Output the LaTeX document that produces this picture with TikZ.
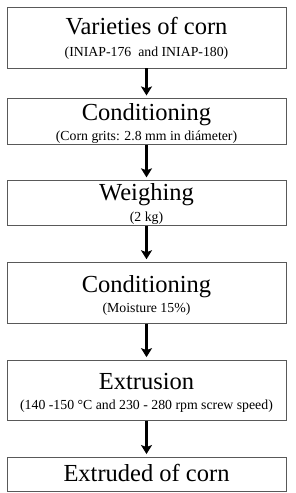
\documentclass[tikz,border=0pt]{standalone}
\usepackage{fontspec}
\setmainfont{Liberation Serif}
\usetikzlibrary{arrows.meta,positioning}

\begin{document}
\begin{tikzpicture}[
    x=1pt, y=1pt,
    stage/.style={rectangle, draw=gray!70!black, line width=0.9pt, inner sep=0pt, minimum width=279pt, minimum height=#1},
    stage/.default=46pt,
    title/.style={anchor=base, inner sep=0pt, font=\fontsize{24.5}{26}\selectfont},
    detail/.style={anchor=base, inner sep=0pt, font=\fontsize{13.8}{15}\selectfont},
    arr/.style={-{Stealth[length=9pt, width=11pt, inset=2pt]}, line width=2.4pt, shorten >=3pt},
]
\useasboundingbox (0,0) rectangle (295,-493);
\node[stage=61pt] (varieties) at (146.5,-37.5) {};
\node[stage=46pt, below=30pt of varieties] (grits) {};
\node[stage=45pt, below=35pt of grits] (weighing) {};
\node[stage=61pt, below=36pt of weighing] (moisture) {};
\node[stage=60pt, below=36pt of moisture] (extrusion) {};
\node[stage=34pt, below=36pt of extrusion] (extruded) {};
% texts
\node[title] (varieties-t) at ([yshift=-28pt]varieties.north) {Varieties of corn};
\node[detail] (varieties-d) at ([yshift=-50pt]varieties.north) {(INIAP-176\ \ and INIAP-180)};
\node[title] (grits-t) at ([yshift=-22pt]grits.north) {Conditioning};
\node[detail] (grits-d) at ([yshift=-42pt]grits.north) {(Corn grits: 2.8 mm in diámeter)};
\node[title] (weighing-t) at ([yshift=-20pt]weighing.north) {Weighing};
\node[detail] (weighing-d) at ([yshift=-41pt]weighing.north) {(2 kg)};
\node[title] (moisture-t) at ([yshift=-30pt]moisture.north) {Conditioning};
\node[detail] (moisture-d) at ([yshift=-50pt]moisture.north) {(Moisture 15\%)};
\node[title] (extrusion-t) at ([yshift=-29pt]extrusion.north) {Extrusion};
\node[detail] (extrusion-d) at ([yshift=-49.5pt]extrusion.north) {(140 -150 °C and 230 - 280 rpm screw speed)};
\node[title] (extruded-t) at ([yshift=-24pt]extruded.north) {Extruded of corn};
% arrows
\draw[arr] (varieties) -- (grits); \draw[arr] (grits) -- (weighing);
\draw[arr] (weighing) -- (moisture); \draw[arr] (moisture) -- (extrusion);
\draw[arr] (extrusion) -- (extruded);
\end{tikzpicture}
\end{document}
